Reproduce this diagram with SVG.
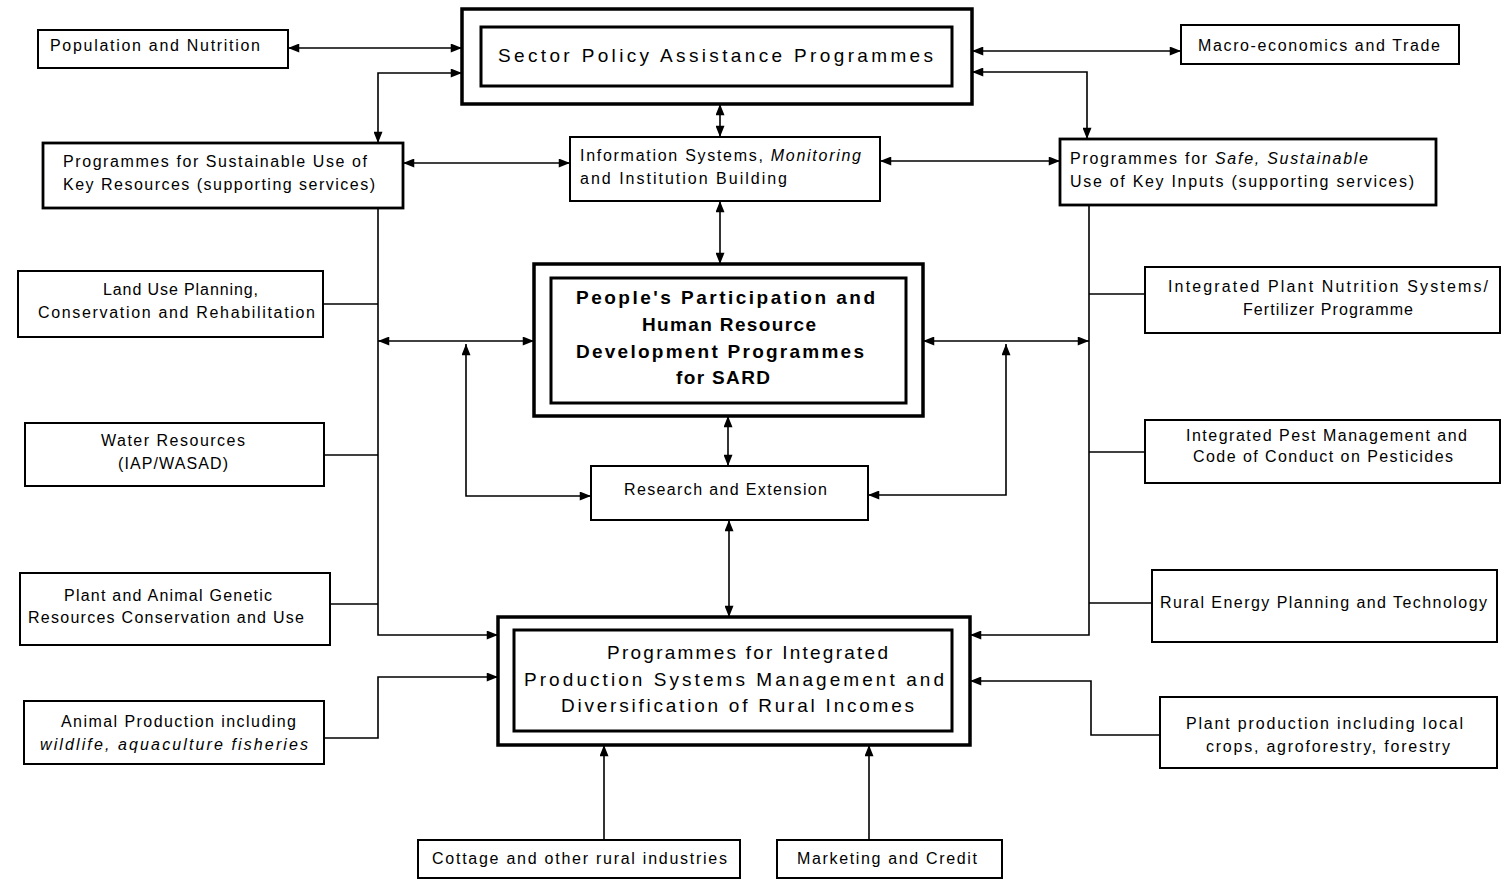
<svg xmlns="http://www.w3.org/2000/svg" width="1507" height="886" viewBox="0 0 1507 886">
<style>
  .bx{fill:#fff;stroke:#000;stroke-width:2}
  .bxt{fill:#fff;stroke:#000;stroke-width:2.8}
  .outer{fill:#fff;stroke:#000;stroke-width:3.5}
  .inner{fill:none;stroke:#000;stroke-width:3}
  .t{font-family:"Liberation Sans",Arial,sans-serif;font-size:16px;fill:#000}
  .tb{font-family:"Liberation Sans",Arial,sans-serif;font-size:19px;fill:#000}
  .bold{font-weight:bold}
  .it{font-style:italic}
  .c{fill:none;stroke:#000;stroke-width:1.6}
  .a{marker-end:url(#ah)}
  .aa{marker-start:url(#ah);marker-end:url(#ah)}
</style>
<defs>
  <marker id="ah" viewBox="0 0 10 8" refX="10" refY="4" markerWidth="12" markerHeight="9" markerUnits="userSpaceOnUse" orient="auto-start-reverse">
    <path d="M0,0 L10,4 L0,8 z" fill="#000"/>
  </marker>
</defs>
<rect width="1507" height="886" fill="#fff"/>

<g id="connectors">
  <line class="c aa" x1="288" y1="48" x2="462" y2="48"/>
  <path class="c aa" d="M462,73 H378 V143"/>
  <line class="c aa" x1="972" y1="51" x2="1181" y2="51"/>
  <path class="c aa" d="M972,72 H1087 V139"/>
  <line class="c aa" x1="720" y1="104" x2="720" y2="137"/>
  <line class="c aa" x1="403" y1="163" x2="570" y2="163"/>
  <line class="c aa" x1="880" y1="161" x2="1060" y2="161"/>
  <line class="c aa" x1="720" y1="201" x2="720" y2="264"/>
  <path class="c a" d="M378,208 V635 H498"/>
  <line class="c" x1="323" y1="304" x2="378" y2="304"/>
  <line class="c" x1="324" y1="455" x2="378" y2="455"/>
  <line class="c" x1="330" y1="604" x2="378" y2="604"/>
  <line class="c aa" x1="378" y1="341" x2="534" y2="341"/>
  <path class="c aa" d="M466,344 V496 H591"/>
  <line class="c aa" x1="728" y1="416" x2="728" y2="466"/>
  <line class="c aa" x1="729" y1="520" x2="729" y2="617"/>
  <path class="c a" d="M1089,205 V635 H970"/>
  <line class="c" x1="1089" y1="294" x2="1145" y2="294"/>
  <line class="c" x1="1089" y1="452" x2="1145" y2="452"/>
  <line class="c" x1="1089" y1="603" x2="1152" y2="603"/>
  <line class="c aa" x1="923" y1="341" x2="1089" y2="341"/>
  <path class="c aa" d="M1006,344 V495 H868"/>
  <path class="c a" d="M324,738 H378 V677 H498"/>
  <path class="c a" d="M1160,735 H1091 V681 H970"/>
  <line class="c a" x1="604" y1="840" x2="604" y2="745"/>
  <line class="c a" x1="869" y1="840" x2="869" y2="745"/>
</g>

<g id="population">
  <rect class="bx" x="38" y="30" width="250" height="38"/>
  <text class="t" x="50" y="51" textLength="210" lengthAdjust="spacing">Population and Nutrition</text>
</g>
<g id="sector">
  <rect class="outer" x="462" y="9" width="510" height="95"/>
  <rect class="inner" x="481" y="27" width="471" height="59"/>
  <text class="tb" x="498" y="62" textLength="435" lengthAdjust="spacing">Sector Policy Assistance Programmes</text>
</g>
<g id="macro">
  <rect class="bx" x="1181" y="25" width="278" height="39"/>
  <text class="t" x="1198" y="51" textLength="242" lengthAdjust="spacing">Macro-economics and Trade</text>
</g>
<g id="sustainable">
  <rect class="bxt" x="43" y="143" width="360" height="65"/>
  <text class="t" x="63" y="167" textLength="304" lengthAdjust="spacing">Programmes for Sustainable Use of</text>
  <text class="t" x="63" y="190" textLength="312" lengthAdjust="spacing">Key Resources (supporting services)</text>
</g>
<g id="information">
  <rect class="bx" x="570" y="137" width="310" height="64"/>
  <text class="t" x="580" y="161" textLength="281" lengthAdjust="spacing">Information Systems, <tspan class="it">Monitoring</tspan></text>
  <text class="t" x="580" y="184" textLength="207" lengthAdjust="spacing">and Institution Building</text>
</g>
<g id="safe">
  <rect class="bxt" x="1060" y="139" width="376" height="66"/>
  <text class="t" x="1070" y="164" textLength="298" lengthAdjust="spacing">Programmes for <tspan class="it">Safe, Sustainable</tspan></text>
  <text class="t" x="1070" y="187" textLength="344" lengthAdjust="spacing">Use of Key Inputs (supporting services)</text>
</g>
<g id="landuse">
  <rect class="bx" x="18" y="271" width="305" height="66"/>
  <text class="t" x="103" y="295" textLength="155" lengthAdjust="spacing">Land Use Planning,</text>
  <text class="t" x="38" y="318" textLength="277" lengthAdjust="spacing">Conservation and Rehabilitation</text>
</g>
<g id="water">
  <rect class="bx" x="25" y="423" width="299" height="63"/>
  <text class="t" x="101" y="446" textLength="144" lengthAdjust="spacing">Water Resources</text>
  <text class="t" x="118" y="469" textLength="110" lengthAdjust="spacing">(IAP/WASAD)</text>
</g>
<g id="genetic">
  <rect class="bx" x="20" y="573" width="310" height="72"/>
  <text class="t" x="64" y="601" textLength="208" lengthAdjust="spacing">Plant and Animal Genetic</text>
  <text class="t" x="28" y="623" textLength="276" lengthAdjust="spacing">Resources Conservation and Use</text>
</g>
<g id="animal">
  <rect class="bx" x="24" y="701" width="300" height="63"/>
  <text class="t" x="61" y="727" textLength="235" lengthAdjust="spacing">Animal Production including</text>
  <text class="t it" x="40" y="750" textLength="268" lengthAdjust="spacing">wildlife, aquaculture fisheries</text>
</g>
<g id="people">
  <rect class="outer" x="534" y="264" width="389" height="152"/>
  <rect class="inner" x="551" y="278" width="355" height="125"/>
  <text class="tb bold" x="576" y="304" textLength="299" lengthAdjust="spacing">People's Participation and</text>
  <text class="tb bold" x="642" y="331" textLength="174" lengthAdjust="spacing">Human Resource</text>
  <text class="tb bold" x="576" y="358" textLength="288" lengthAdjust="spacing">Development Programmes</text>
  <text class="tb bold" x="676" y="384" textLength="94" lengthAdjust="spacing">for SARD</text>
</g>
<g id="research">
  <rect class="bx" x="591" y="466" width="277" height="54"/>
  <text class="t" x="624" y="495" textLength="203" lengthAdjust="spacing">Research and Extension</text>
</g>
<g id="integrated">
  <rect class="outer" x="498" y="617" width="472" height="128"/>
  <rect class="inner" x="514" y="630" width="438" height="101"/>
  <text class="tb" x="607" y="659" textLength="281" lengthAdjust="spacing">Programmes for Integrated</text>
  <text class="tb" x="524" y="686" textLength="420" lengthAdjust="spacing">Production Systems Management and</text>
  <text class="tb" x="561" y="712" textLength="353" lengthAdjust="spacing">Diversification of Rural Incomes</text>
</g>
<g id="nutrition">
  <rect class="bx" x="1145" y="267" width="355" height="66"/>
  <text class="t" x="1168" y="292" textLength="320" lengthAdjust="spacing">Integrated Plant Nutrition Systems/</text>
  <text class="t" x="1243" y="315" textLength="170" lengthAdjust="spacing">Fertilizer Programme</text>
</g>
<g id="pest">
  <rect class="bx" x="1145" y="420" width="355" height="63"/>
  <text class="t" x="1186" y="441" textLength="281" lengthAdjust="spacing">Integrated Pest Management and</text>
  <text class="t" x="1193" y="462" textLength="260" lengthAdjust="spacing">Code of Conduct on Pesticides</text>
</g>
<g id="energy">
  <rect class="bx" x="1152" y="570" width="345" height="72"/>
  <text class="t" x="1160" y="608" textLength="327" lengthAdjust="spacing">Rural Energy Planning and Technology</text>
</g>
<g id="plantprod">
  <rect class="bx" x="1160" y="697" width="337" height="71"/>
  <text class="t" x="1186" y="729" textLength="277" lengthAdjust="spacing">Plant production including local</text>
  <text class="t" x="1206" y="752" textLength="244" lengthAdjust="spacing">crops, agroforestry, forestry</text>
</g>
<g id="cottage">
  <rect class="bx" x="418" y="840" width="322" height="38"/>
  <text class="t" x="432" y="864" textLength="295" lengthAdjust="spacing">Cottage and other rural industries</text>
</g>
<g id="marketing">
  <rect class="bx" x="777" y="840" width="225" height="38"/>
  <text class="t" x="797" y="864" textLength="180" lengthAdjust="spacing">Marketing and Credit</text>
</g>
</svg>
